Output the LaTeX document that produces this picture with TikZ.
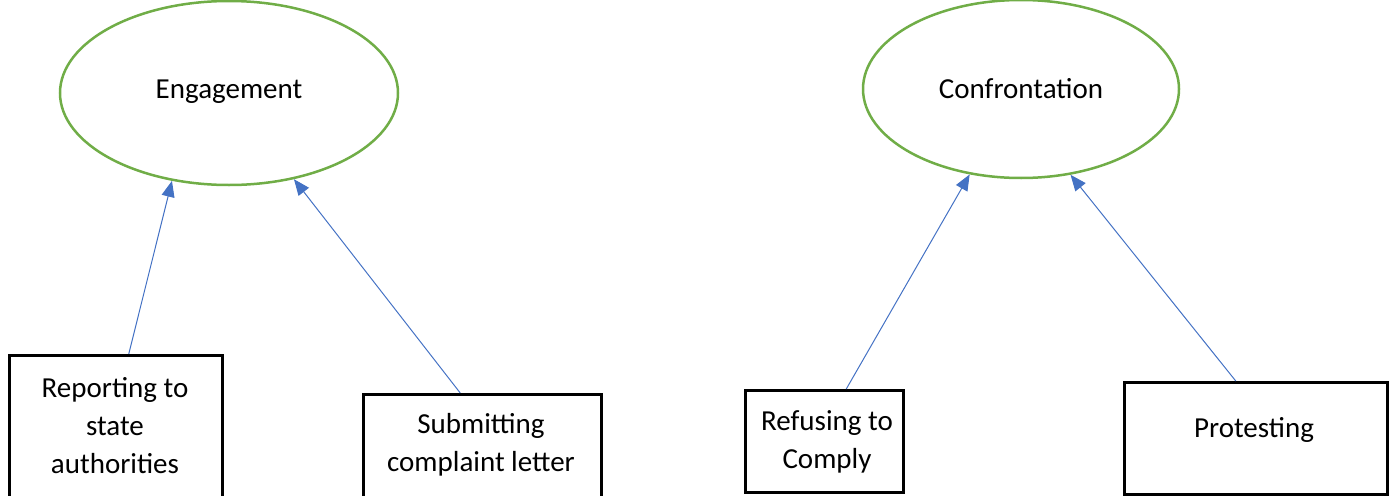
\documentclass[tikz,border=0pt]{standalone}
\usepackage{fontspec}
\setmainfont{Carlito}
\usetikzlibrary{arrows.meta,shapes.geometric}
\definecolor{ogreen}{HTML}{70AD47}
\definecolor{oblue}{HTML}{4472C4}
\tikzset{
  oval/.style={ellipse, draw=ogreen, line width=2.5pt, inner sep=0pt},
  boxn/.style={draw=black, line width=2.5pt, rectangle, inner sep=0pt, anchor=north west},
  lbl/.style={font=\fontsize{29}{38}\selectfont, align=center, inner sep=0pt},
  conn/.style={draw=oblue, line width=1pt, -{Triangle[length=16pt,width=13pt]}}
}
\begin{document}
\begin{tikzpicture}[x=1pt,y=-1pt]
\useasboundingbox (0,0) rectangle (1391,495);
\clip (0,0) rectangle (1391,495);
\node[oval, minimum width=338pt, minimum height=184pt] (e1) at (229,93) {};
\node[lbl] (t1) at (229,92) {Engagement};
\node[oval, minimum width=316pt, minimum height=178pt] (e2) at (1021,89) {};
\node[lbl] (t2) at (1021,89) {Confrontation};

\node[boxn, minimum width=213pt, minimum height=170pt] (b1) at (8,354) {};
\node[lbl] (l1) at (115,426) {Reporting to\\state\\authorities};
\node[boxn, minimum width=238pt, minimum height=130pt] (b2) at (362,393) {};
\node[lbl] (l2) at (481,445) {Submitting\\complaint letter};
\node[boxn, minimum width=158pt, minimum height=102pt] (b3) at (744,389) {};
\node[lbl] (l3) at (827,442) {Refusing to\\Comply};
\node[boxn, minimum width=263pt, minimum height=112pt] (b4) at (1123,381) {};
\node[lbl] (l4) at (1254,430) {Protesting};

\draw[conn] ([xshift=13pt]b1.north) -- (e1.237);
\draw[conn] ([xshift=-22pt]b2.north) -- (e1.307);
\draw[conn] ([xshift=22pt]b3.north) -- (e2.239.5);
\draw[conn] ([xshift=-20pt]b4.north) -- (e2.300.3);
\end{tikzpicture}
\end{document}
